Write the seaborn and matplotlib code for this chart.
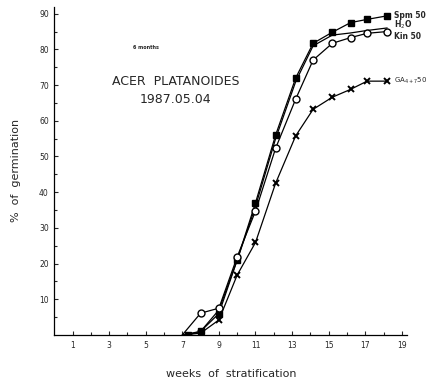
import matplotlib
matplotlib.use("Agg")
import matplotlib.pyplot as plt
import seaborn as sns
import pandas as pd

# weeks of stratification at each census
weeks_spm = [7.0, 7.3, 8.0, 9.0, 10.0, 11.0, 12.1, 13.2, 14.15, 15.2, 16.2, 17.1, 18.2]
spm50 = [0, 0, 1, 6, 21, 37, 56, 72, 81.7, 84.8, 87.5, 88.4, 89.4]

weeks_h2o = [7.0, 8.0, 9.0, 10.0, 11.0, 12.1, 13.2, 14.15, 15.2, 16.2, 17.1, 18.2]
h2o = [0, 1, 7, 21, 36, 55, 71, 81, 84, 84.6, 85.3, 86]

weeks_kin = [7.0, 8.0, 9.0, 10.0, 11.0, 12.1, 13.2, 14.15, 15.2, 16.2, 17.1, 18.2]
kin50 = [0, 6.1, 7.5, 21.9, 34.7, 52.3, 66.1, 77, 81.7, 83.3, 84.5, 85]

weeks_ga = [7.0, 8.0, 9.0, 10.0, 11.0, 12.1, 13.2, 14.15, 15.2, 16.2, 17.1, 18.2]
ga47_50 = [0, 0.5, 4.2, 16.8, 25.9, 42.5, 55.8, 63.2, 66.6, 68.8, 71.1, 71.1]

x_tick_labels = [1, 3, 5, 7, 9, 11, 13, 15, 17, 19]
y_tick_labels = [10, 20, 30, 40, 50, 60, 70, 80, 90]

sns.set_theme(style="ticks")
plt.rcParams['font.family'] = ['DejaVu Sans']

fig = plt.figure(figsize=(4.31, 3.85), dpi=100)
ax = fig.add_axes([0.126, 0.13, 0.819, 0.853])

df_spm = pd.DataFrame({"w": weeks_spm, "g": spm50})
df_h2o = pd.DataFrame({"w": weeks_h2o, "g": h2o})
df_kin = pd.DataFrame({"w": weeks_kin, "g": kin50})
df_ga = pd.DataFrame({"w": weeks_ga, "g": ga47_50})

lw = 0.9
sns.lineplot(data=df_h2o, x="w", y="g", ax=ax, color="black", lw=lw, sort=False)
sns.lineplot(data=df_ga, x="w", y="g", ax=ax, color="black", lw=lw, sort=False)
ax.plot(df_ga["w"][1:], df_ga["g"][1:], ls="none", marker="x", ms=5, mew=1.4, color="black")
sns.lineplot(data=df_spm, x="w", y="g", ax=ax, color="black", lw=lw, sort=False)
ax.plot(df_spm["w"][1:], df_spm["g"][1:], ls="none", marker="s", ms=4, color="black")
sns.lineplot(data=df_kin, x="w", y="g", ax=ax, color="black", lw=lw, sort=False)
ax.plot(df_kin["w"][1:], df_kin["g"][1:], ls="none", marker="o", ms=5,
        mfc="white", mec="black", mew=1.0)

ax.set_xlim(0, 19.3)
ax.set_ylim(0, 92)
ax.set_xticks(x_tick_labels)
ax.set_xticklabels([str(v) for v in x_tick_labels], fontsize=5.5)
ax.set_xticks([2, 4, 6, 8, 10, 12, 14, 16, 18], minor=True)
ax.set_yticks(y_tick_labels)
ax.set_yticklabels([str(v) for v in y_tick_labels], fontsize=5.5)
ax.set_yticks([5, 15, 25, 35, 45, 55, 65, 75, 85], minor=True)
ax.tick_params(axis="both", which="major", direction="in", length=3, width=0.8, pad=4)
ax.tick_params(axis="both", which="minor", direction="in", length=2, width=0.8)
ax.set_xlabel("weeks  of  stratification", fontsize=8, labelpad=14)
ax.set_ylabel("%  of  germination", fontsize=8)
ax.yaxis.set_label_coords(-0.095, 0.5)
for s in ["top", "right"]:
    ax.spines[s].set_visible(False)
for s in ["left", "bottom"]:
    ax.spines[s].set_linewidth(0.9)
    ax.spines[s].set_color("black")

ax.text(5.0, 80.5, "6 months", fontsize=3.5, ha="center", va="center", fontweight="bold")
ax.text(6.65, 71.0, "ACER  PLATANOIDES", fontsize=9, ha="center", va="center")
ax.text(6.65, 66.0, "1987.05.04", fontsize=9, ha="center", va="center")

fs = 5.5
ax.text(18.6, 89.5, "Spm 50", fontsize=fs, ha="left", va="center", fontweight="bold", clip_on=False)
ax.text(18.6, 86.8, "H$_2$O", fontsize=fs, ha="left", va="center", fontweight="bold", clip_on=False)
ax.text(18.6, 83.6, "Kin 50", fontsize=fs, ha="left", va="center", fontweight="bold", clip_on=False)
ax.text(18.6, 71.1, "GA$_{4+7}$50", fontsize=5, ha="left", va="center", clip_on=False)

fig.savefig("out.png", dpi=100)
